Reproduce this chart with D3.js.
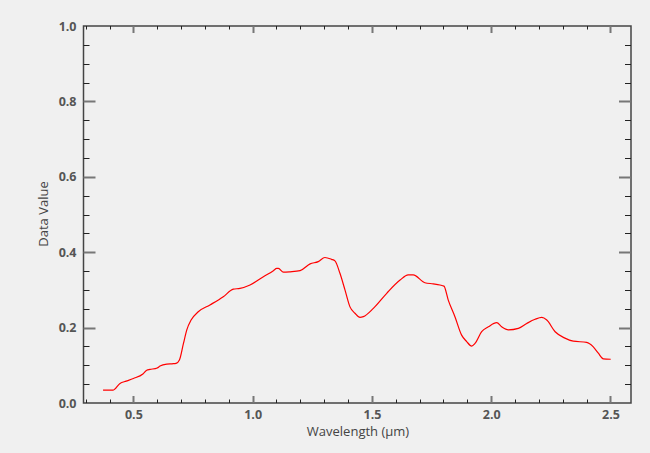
<!DOCTYPE html>
<html><head><meta charset="utf-8">
<script src="https://cdn.jsdelivr.net/npm/d3@7"></script>
<style>
html,body{margin:0;padding:0;background:#f0f0f0;}
svg{display:block;}
text{font-family:"Open Sans","Noto Sans",sans-serif;}
</style></head>
<body>
<svg id="chart" width="650" height="453"></svg>
<script>
// Data
const wavelength = [0.373,0.414,0.444,0.470,0.500,0.540,0.556,0.570,0.600,0.612,0.640,0.662,0.679,0.693,0.710,0.724,0.742,0.772,0.821,0.877,0.919,0.947,0.989,1.045,1.087,1.101,1.108,1.129,1.157,1.199,1.241,1.275,1.303,1.331,1.345,1.366,1.387,1.408,1.429,1.450,1.464,1.506,1.562,1.618,1.652,1.673,1.722,1.757,1.785,1.802,1.820,1.848,1.876,1.897,1.918,1.932,1.960,1.988,2.023,2.044,2.072,2.114,2.149,2.184,2.212,2.233,2.268,2.309,2.344,2.400,2.428,2.449,2.470,2.501];
const dataValue  = [0.034,0.034,0.052,0.058,0.065,0.077,0.087,0.089,0.093,0.098,0.103,0.104,0.105,0.114,0.158,0.194,0.220,0.242,0.260,0.282,0.302,0.304,0.313,0.335,0.351,0.357,0.357,0.347,0.348,0.351,0.369,0.375,0.386,0.381,0.377,0.344,0.300,0.255,0.238,0.227,0.229,0.251,0.291,0.326,0.340,0.340,0.319,0.316,0.313,0.310,0.273,0.229,0.180,0.163,0.151,0.158,0.189,0.202,0.213,0.202,0.194,0.198,0.211,0.222,0.227,0.220,0.189,0.172,0.164,0.161,0.149,0.132,0.117,0.116];
const xTicks = [0.5,1.0,1.5,2.0,2.5];
const yTicks = [0.0,0.2,0.4,0.6,0.8,1.0];
const xTitle = "Wavelength (µm)";
const yTitle = "Data Value";

const svg = d3.select("#chart");
const L = 83.5, R = 631, T = 26, B = 403;
const x = d3.scaleLinear().domain([0.291, 2.586]).range([L, R]);
const y = d3.scaleLinear().domain([0, 1]).range([B, T]);

const xMinor = d3.range(0.3, 2.59, 0.1).map(v => +v.toFixed(2)).filter(v => !xTicks.some(t => Math.abs(t - v) < 1e-6));
const yMinor = d3.range(0.05, 1.0, 0.05).map(v => +v.toFixed(2)).filter(v => !yTicks.some(t => Math.abs(t - v) < 1e-6));

const g = svg.append("g");
g.append("rect").attr("x", L).attr("y", T).attr("width", R - L).attr("height", B - T)
  .attr("fill", "none").attr("stroke", "#444").attr("stroke-width", 1.5);

function tickLines(vals, len, color, w) {
  vals.x.forEach(v => {
    const px = Math.round(x(v)) + 0.5;
    g.append("line").attr("x1", px).attr("x2", px).attr("y1", B).attr("y2", B - len.x).attr("stroke", color).attr("stroke-width", w);
    g.append("line").attr("x1", px).attr("x2", px).attr("y1", T).attr("y2", T + len.x).attr("stroke", color).attr("stroke-width", w);
  });
  vals.y.forEach(v => {
    const py = Math.round(y(v)) + 0.5;
    g.append("line").attr("x1", L).attr("x2", L + len.y).attr("y1", py).attr("y2", py).attr("stroke", color).attr("stroke-width", w);
    g.append("line").attr("x1", R).attr("x2", R - len.y).attr("y1", py).attr("y2", py).attr("stroke", color).attr("stroke-width", w);
  });
}
tickLines({x: xMinor, y: yMinor}, {x: 3.5, y: 6}, "#222", 1);
tickLines({x: xTicks, y: yTicks.filter(v => v > 0 && v < 1)}, {x: 7, y: 12}, "#777", 2);

const xAxis = d3.axisBottom(x).tickValues(xTicks).tickFormat(d3.format(".1f")).tickSize(0).tickPadding(7);
const yAxis = d3.axisLeft(y).tickValues(yTicks).tickFormat(d3.format(".1f")).tickSize(0).tickPadding(7);
const gx = svg.append("g").attr("transform", `translate(0,${B})`).call(xAxis);
const gy = svg.append("g").attr("transform", `translate(${L},0)`).call(yAxis);
[gx, gy].forEach(a => {
  a.select(".domain").remove();
  a.selectAll("text").attr("fill", "#555").style("font-size", "12.5px").style("font-weight", "bold")
    .style("font-family", "'Open Sans',sans-serif");
});

const line = d3.line().x((d, i) => x(wavelength[i])).y(d => y(d)).curve(d3.curveMonotoneX);
svg.append("path").datum(dataValue).attr("d", line)
  .attr("fill", "none").attr("stroke", "#ff0000").attr("stroke-width", 1.2);

svg.append("text").attr("x", 358).attr("y", 435.5).attr("text-anchor", "middle")
  .attr("fill", "#444").style("font-size", "13px").text(xTitle);
svg.append("text").attr("transform", "translate(47.5,214) rotate(-90)").attr("text-anchor", "middle")
  .attr("fill", "#444").style("font-size", "13px").text(yTitle);
</script>
</body></html>
